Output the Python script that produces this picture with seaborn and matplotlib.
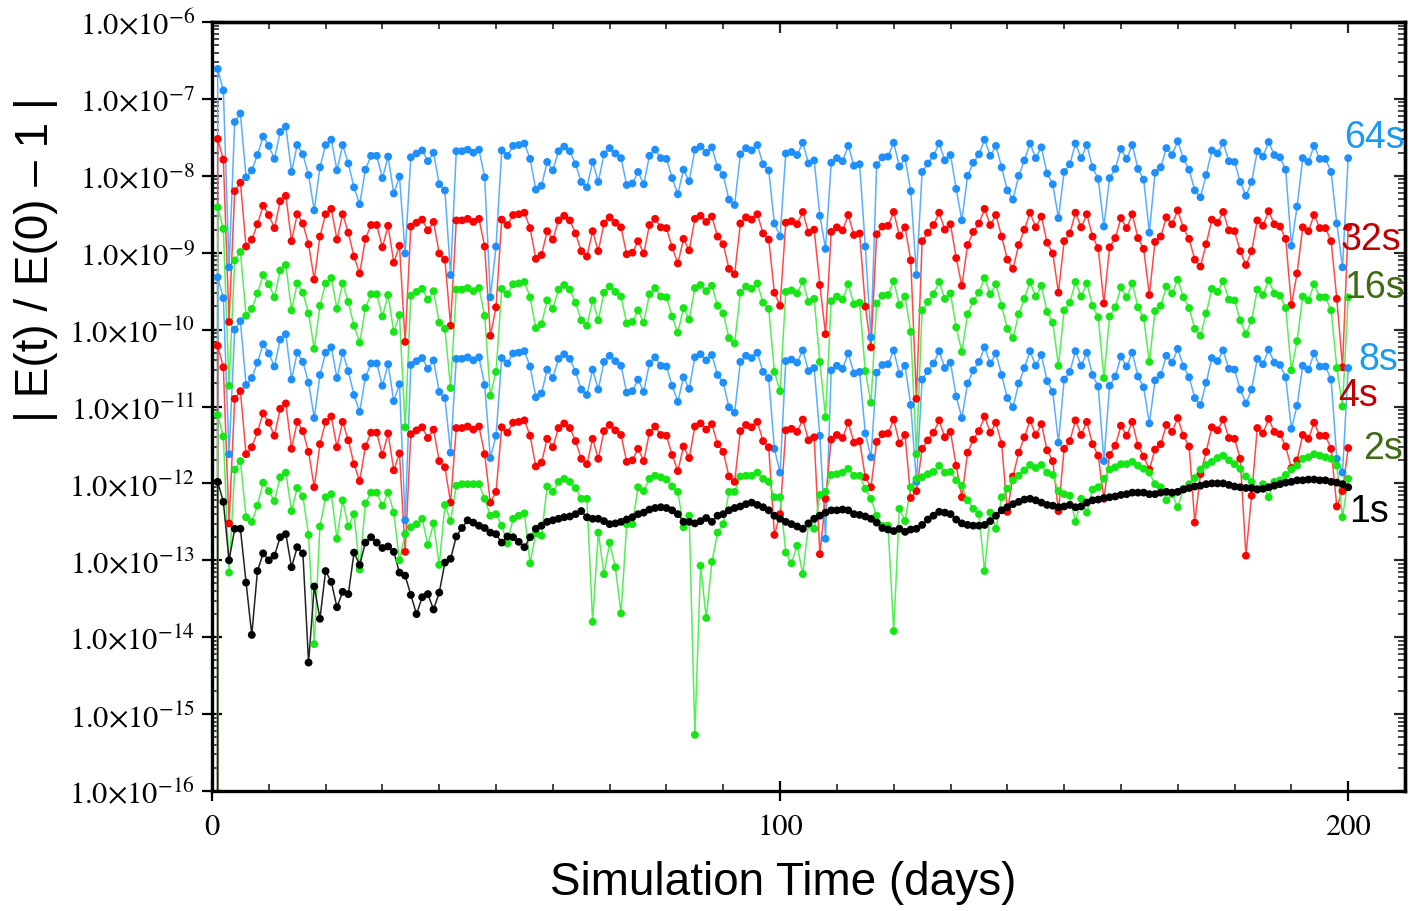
import numpy as np
import pandas as pd
import matplotlib
matplotlib.use("Agg")
import matplotlib.pyplot as plt
from matplotlib.ticker import FixedLocator, FuncFormatter, LogLocator, NullFormatter, MultipleLocator
import seaborn as sns

# log10 of |E(t)/E(0) - 1|, one sample per simulated day (days 1..200)
log_64s = [
    -6.61, -6.89, -9.19, -7.30, -7.19, -8.02, -7.93, -7.73, -7.49, -7.61,
    -7.78, -7.43, -7.36, -7.95, -7.60, -7.72, -7.99, -8.45, -7.89, -7.60,
    -7.53, -7.93, -7.60, -7.84, -8.15, -8.37, -7.92, -7.74, -7.74, -8.03,
    -7.75, -8.23, -8.01, -9.01, -7.76, -7.71, -7.67, -7.81, -7.70, -8.11,
    -8.19, -9.29, -7.68, -7.68, -7.66, -7.70, -7.66, -8.02, -9.58, -8.92,
    -7.67, -7.74, -7.61, -7.60, -7.58, -7.78, -8.18, -8.13, -7.82, -7.93,
    -7.68, -7.62, -7.68, -7.85, -8.08, -8.15, -7.82, -8.08, -7.72, -7.64,
    -7.71, -7.77, -8.12, -8.10, -7.95, -8.11, -7.74, -7.66, -7.77, -7.78,
    -8.03, -8.24, -7.92, -8.07, -7.66, -7.62, -7.70, -7.63, -7.89, -7.99,
    -8.31, -8.38, -7.72, -7.64, -7.67, -7.60, -7.85, -7.93, -8.62, -8.79,
    -7.71, -7.69, -7.73, -7.57, -7.84, -7.80, -8.52, -8.95, -7.83, -7.77,
    -7.81, -7.61, -7.87, -7.85, -8.92, -10.10, -7.86, -7.76, -7.75, -7.57,
    -7.88, -7.77, -8.20, -9.29, -7.95, -7.84, -7.74, -7.58, -7.80, -7.73,
    -8.17, -8.58, -8.00, -7.83, -7.72, -7.53, -7.74, -7.61, -7.89, -8.19,
    -8.31, -8.00, -7.80, -7.58, -7.77, -7.63, -7.97, -8.11, -8.55, -7.95,
    -7.85, -7.58, -7.77, -7.60, -7.89, -8.04, -8.66, -8.03, -7.91, -7.65,
    -7.78, -7.60, -7.91, -8.05, -8.74, -7.96, -7.89, -7.64, -7.73, -7.55,
    -7.78, -7.92, -8.19, -8.28, -7.99, -7.67, -7.71, -7.57, -7.81, -7.82,
    -8.08, -8.26, -8.08, -7.68, -7.75, -7.56, -7.73, -7.76, -7.92, -8.91,
    -8.40, -7.77, -7.82, -7.61, -7.78, -7.78, -7.95, -8.62, -9.19, -7.77,
]

log_32s = [
    -7.52, -7.79, -9.90, -8.20, -8.09, -8.92, -8.83, -8.63, -8.39, -8.51,
    -8.68, -8.33, -8.26, -8.85, -8.50, -8.62, -8.89, -9.35, -8.79, -8.50,
    -8.43, -8.83, -8.50, -8.74, -9.05, -9.27, -8.82, -8.64, -8.64, -8.93,
    -8.65, -9.13, -8.91, -10.16, -8.66, -8.61, -8.57, -8.71, -8.60, -9.01,
    -9.09, -9.95, -8.58, -8.58, -8.56, -8.60, -8.56, -8.92, -10.08, -9.71,
    -8.57, -8.64, -8.51, -8.50, -8.48, -8.68, -9.08, -9.03, -8.72, -8.83,
    -8.58, -8.52, -8.58, -8.75, -8.98, -9.05, -8.72, -8.98, -8.62, -8.54,
    -8.61, -8.67, -9.02, -9.00, -8.85, -9.01, -8.64, -8.56, -8.67, -8.68,
    -8.93, -9.14, -8.82, -8.97, -8.56, -8.52, -8.60, -8.53, -8.79, -8.89,
    -9.21, -9.28, -8.62, -8.54, -8.57, -8.50, -8.75, -8.83, -9.52, -9.69,
    -8.61, -8.59, -8.63, -8.47, -8.74, -8.70, -9.42, -10.06, -8.73, -8.67,
    -8.71, -8.51, -8.77, -8.75, -9.70, -10.23, -8.76, -8.66, -8.65, -8.47,
    -8.78, -8.67, -9.10, -10.90, -8.85, -8.74, -8.64, -8.48, -8.70, -8.63,
    -9.07, -9.43, -8.90, -8.73, -8.62, -8.43, -8.64, -8.51, -8.79, -9.09,
    -9.21, -8.90, -8.70, -8.48, -8.67, -8.53, -8.87, -9.01, -9.52, -8.85,
    -8.75, -8.48, -8.67, -8.50, -8.79, -8.94, -9.66, -8.93, -8.81, -8.55,
    -8.68, -8.50, -8.81, -8.95, -9.55, -8.86, -8.79, -8.54, -8.63, -8.45,
    -8.68, -8.82, -9.09, -9.18, -8.89, -8.57, -8.61, -8.47, -8.71, -8.72,
    -8.98, -9.16, -8.98, -8.58, -8.65, -8.46, -8.63, -8.66, -8.82, -9.68,
    -9.27, -8.67, -8.72, -8.51, -8.68, -8.68, -8.85, -9.60, -10.49, -8.67,
]

log_16s = [
    -8.41, -8.69, -10.73, -9.10, -8.99, -9.82, -9.73, -9.53, -9.29, -9.41,
    -9.58, -9.23, -9.16, -9.75, -9.40, -9.52, -9.79, -10.25, -9.69, -9.40,
    -9.33, -9.73, -9.40, -9.64, -9.95, -10.17, -9.72, -9.54, -9.54, -9.83,
    -9.55, -10.03, -9.81, -11.27, -9.56, -9.51, -9.47, -9.61, -9.50, -9.91,
    -9.99, -10.76, -9.48, -9.48, -9.46, -9.50, -9.46, -9.82, -10.86, -10.55,
    -9.47, -9.54, -9.41, -9.40, -9.38, -9.58, -9.98, -9.93, -9.62, -9.73,
    -9.48, -9.42, -9.48, -9.65, -9.88, -9.95, -9.62, -9.88, -9.52, -9.44,
    -9.51, -9.57, -9.92, -9.90, -9.75, -9.91, -9.54, -9.46, -9.57, -9.58,
    -9.83, -10.04, -9.72, -9.87, -9.46, -9.42, -9.50, -9.43, -9.69, -9.79,
    -10.11, -10.18, -9.52, -9.44, -9.47, -9.40, -9.65, -9.73, -10.55, -10.80,
    -9.51, -9.49, -9.53, -9.37, -9.64, -9.60, -10.42, -11.14, -9.63, -9.57,
    -9.61, -9.41, -9.67, -9.65, -10.54, -10.95, -9.66, -9.56, -9.55, -9.37,
    -9.68, -9.57, -10.03, -11.62, -9.75, -9.64, -9.54, -9.38, -9.60, -9.53,
    -9.97, -10.29, -9.80, -9.63, -9.52, -9.33, -9.54, -9.41, -9.69, -9.99,
    -10.11, -9.80, -9.60, -9.38, -9.57, -9.43, -9.77, -9.91, -10.47, -9.75,
    -9.65, -9.38, -9.57, -9.40, -9.69, -9.84, -10.63, -9.83, -9.71, -9.45,
    -9.58, -9.40, -9.71, -9.85, -10.42, -9.76, -9.69, -9.44, -9.53, -9.35,
    -9.58, -9.72, -9.99, -10.08, -9.79, -9.47, -9.51, -9.37, -9.61, -9.62,
    -9.88, -10.06, -9.88, -9.48, -9.55, -9.36, -9.53, -9.56, -9.72, -10.53,
    -10.15, -9.57, -9.62, -9.41, -9.58, -9.58, -9.75, -10.50, -11.00, -9.58,
]

log_8s = [
    -9.32, -9.59, -11.62, -10.00, -9.89, -10.72, -10.63, -10.43, -10.19, -10.31,
    -10.48, -10.13, -10.06, -10.65, -10.30, -10.42, -10.69, -11.15, -10.59, -10.30,
    -10.23, -10.63, -10.30, -10.54, -10.85, -11.07, -10.62, -10.44, -10.44, -10.73,
    -10.45, -10.93, -10.71, -12.48, -10.46, -10.41, -10.37, -10.51, -10.40, -10.81,
    -10.89, -11.60, -10.38, -10.38, -10.36, -10.40, -10.36, -10.72, -11.67, -11.38,
    -10.37, -10.44, -10.31, -10.30, -10.28, -10.48, -10.88, -10.83, -10.52, -10.63,
    -10.38, -10.32, -10.38, -10.55, -10.78, -10.85, -10.52, -10.78, -10.42, -10.34,
    -10.41, -10.47, -10.82, -10.80, -10.65, -10.81, -10.44, -10.36, -10.47, -10.48,
    -10.73, -10.94, -10.62, -10.77, -10.36, -10.32, -10.40, -10.33, -10.59, -10.69,
    -11.01, -11.08, -10.42, -10.34, -10.37, -10.30, -10.55, -10.63, -11.55, -11.86,
    -10.41, -10.39, -10.43, -10.27, -10.54, -10.50, -11.38, -12.72, -10.53, -10.47,
    -10.51, -10.31, -10.57, -10.55, -11.35, -11.66, -10.56, -10.46, -10.45, -10.27,
    -10.58, -10.47, -10.98, -11.98, -10.65, -10.54, -10.44, -10.28, -10.50, -10.43,
    -10.87, -11.15, -10.70, -10.53, -10.42, -10.23, -10.44, -10.31, -10.59, -10.89,
    -11.01, -10.70, -10.50, -10.28, -10.47, -10.33, -10.67, -10.81, -11.47, -10.65,
    -10.55, -10.28, -10.47, -10.30, -10.59, -10.74, -11.71, -10.73, -10.61, -10.35,
    -10.48, -10.30, -10.61, -10.75, -11.22, -10.66, -10.59, -10.34, -10.43, -10.25,
    -10.48, -10.62, -10.89, -10.98, -10.69, -10.37, -10.41, -10.27, -10.51, -10.52,
    -10.78, -10.96, -10.78, -10.38, -10.45, -10.26, -10.43, -10.46, -10.62, -11.29,
    -10.99, -10.47, -10.52, -10.31, -10.48, -10.48, -10.65, -11.68, -11.86, -10.50,
]

log_4s = [
    -10.21, -10.49, -12.52, -10.90, -10.80, -11.62, -11.53, -11.33, -11.09, -11.21,
    -11.38, -11.03, -10.96, -11.55, -11.20, -11.32, -11.59, -12.05, -11.49, -11.20,
    -11.13, -11.53, -11.20, -11.44, -11.75, -11.97, -11.52, -11.34, -11.34, -11.63,
    -11.35, -11.83, -11.61, -12.89, -11.36, -11.31, -11.27, -11.41, -11.30, -11.71,
    -11.79, -12.25, -11.28, -11.28, -11.26, -11.30, -11.26, -11.62, -12.25, -12.11,
    -11.27, -11.34, -11.21, -11.20, -11.18, -11.38, -11.78, -11.73, -11.42, -11.53,
    -11.28, -11.22, -11.28, -11.45, -11.68, -11.75, -11.42, -11.68, -11.32, -11.24,
    -11.31, -11.37, -11.72, -11.70, -11.55, -11.71, -11.34, -11.26, -11.37, -11.38,
    -11.63, -11.84, -11.52, -11.67, -11.26, -11.22, -11.30, -11.23, -11.49, -11.59,
    -11.91, -11.98, -11.32, -11.24, -11.27, -11.20, -11.45, -11.53, -12.67, -12.40,
    -11.31, -11.29, -11.33, -11.17, -11.44, -11.40, -12.92, -12.20, -11.43, -11.37,
    -11.41, -11.21, -11.47, -11.45, -11.92, -12.05, -11.46, -11.36, -11.35, -11.17,
    -11.48, -11.37, -12.19, -12.10, -11.55, -11.44, -11.34, -11.18, -11.40, -11.33,
    -11.77, -12.18, -11.60, -11.43, -11.32, -11.13, -11.34, -11.21, -11.49, -12.37,
    -11.91, -11.60, -11.40, -11.18, -11.37, -11.23, -11.57, -11.71, -12.36, -11.55,
    -11.45, -11.18, -11.37, -11.20, -11.49, -11.64, -12.20, -11.63, -11.51, -11.25,
    -11.38, -11.20, -11.51, -11.65, -11.82, -11.56, -11.49, -11.24, -11.33, -11.15,
    -11.38, -11.52, -12.51, -11.88, -11.59, -11.27, -11.31, -11.17, -11.41, -11.42,
    -11.68, -12.94, -12.16, -11.28, -11.35, -11.16, -11.33, -11.36, -11.52, -11.80,
    -11.70, -11.37, -11.42, -11.21, -11.38, -11.38, -11.55, -12.30, -12.10, -11.54,
]

log_2s = [
    -11.11, -11.39, -13.16, -11.82, -11.71, -12.44, -12.50, -12.29, -11.99, -12.10,
    -12.23, -11.92, -11.86, -12.36, -12.06, -12.17, -12.67, -14.09, -12.56, -12.18,
    -12.14, -12.72, -12.22, -12.56, -12.40, -13.12, -12.26, -12.12, -12.12, -12.29,
    -12.12, -12.38, -13.00, -12.66, -12.57, -12.53, -12.46, -12.80, -12.52, -13.06,
    -12.28, -12.49, -12.03, -12.01, -12.01, -12.01, -12.01, -12.20, -12.42, -12.40,
    -12.55, -12.78, -12.46, -12.42, -12.39, -13.04, -12.65, -12.68, -12.04, -12.11,
    -11.98, -11.94, -11.98, -12.06, -12.20, -12.20, -13.80, -12.64, -13.18, -12.77,
    -13.09, -13.69, -12.53, -12.53, -12.05, -12.10, -11.94, -11.90, -11.92, -11.95,
    -12.04, -12.11, -12.57, -12.42, -15.27, -13.07, -13.75, -13.02, -12.64, -12.53,
    -12.11, -12.11, -11.91, -11.90, -11.90, -11.86, -11.94, -11.98, -12.18, -12.18,
    -12.90, -13.04, -12.81, -13.18, -12.53, -12.59, -12.15, -12.11, -11.89, -11.88,
    -11.86, -11.81, -11.90, -11.90, -12.07, -12.20, -12.42, -12.55, -12.55, -13.92,
    -12.33, -12.49, -12.05, -11.94, -11.92, -11.88, -11.85, -11.77, -11.86, -11.85,
    -11.96, -12.03, -12.22, -12.33, -12.40, -13.14, -12.38, -12.59, -12.18, -12.07,
    -11.96, -11.90, -11.83, -11.76, -11.80, -11.76, -11.86, -11.89, -12.10, -12.14,
    -12.16, -12.50, -12.20, -12.38, -12.08, -12.05, -11.94, -11.82, -11.79, -11.75,
    -11.75, -11.72, -11.77, -11.81, -11.86, -12.01, -12.05, -12.22, -12.14, -12.31,
    -12.07, -12.01, -11.93, -11.82, -11.76, -11.72, -11.67, -11.64, -11.70, -11.75,
    -11.81, -11.91, -11.98, -12.07, -12.01, -12.18, -11.98, -11.96, -11.89, -11.82,
    -11.77, -11.68, -11.66, -11.62, -11.64, -11.66, -11.68, -11.77, -12.44, -11.94,
]

log_1s = [
    -11.98, -12.24, -13.00, -12.59, -12.59, -13.29, -13.97, -13.14, -12.91, -13.00,
    -12.94, -12.70, -12.66, -13.09, -12.83, -12.91, -14.33, -13.34, -13.76, -13.14,
    -13.28, -13.61, -13.41, -13.44, -12.90, -13.06, -12.77, -12.70, -12.77, -12.84,
    -12.82, -12.89, -13.16, -13.20, -13.45, -13.70, -13.48, -13.44, -13.64, -13.42,
    -13.03, -12.98, -12.69, -12.58, -12.48, -12.51, -12.55, -12.58, -12.64, -12.66,
    -12.77, -12.69, -12.70, -12.76, -12.83, -12.70, -12.59, -12.55, -12.50, -12.48,
    -12.46, -12.44, -12.43, -12.40, -12.36, -12.44, -12.46, -12.46, -12.49, -12.53,
    -12.52, -12.50, -12.47, -12.44, -12.40, -12.38, -12.34, -12.32, -12.31, -12.32,
    -12.35, -12.40, -12.50, -12.50, -12.52, -12.49, -12.45, -12.50, -12.42, -12.40,
    -12.35, -12.32, -12.30, -12.27, -12.25, -12.28, -12.31, -12.35, -12.42, -12.46,
    -12.50, -12.53, -12.56, -12.59, -12.52, -12.46, -12.42, -12.38, -12.35, -12.35,
    -12.34, -12.35, -12.40, -12.41, -12.43, -12.46, -12.51, -12.58, -12.60, -12.62,
    -12.59, -12.63, -12.60, -12.59, -12.54, -12.47, -12.42, -12.37, -12.38, -12.40,
    -12.47, -12.52, -12.54, -12.55, -12.55, -12.54, -12.49, -12.42, -12.35, -12.31,
    -12.27, -12.24, -12.21, -12.20, -12.22, -12.25, -12.28, -12.29, -12.31, -12.30,
    -12.28, -12.31, -12.30, -12.25, -12.22, -12.21, -12.19, -12.18, -12.17, -12.15,
    -12.14, -12.12, -12.12, -12.12, -12.14, -12.14, -12.12, -12.11, -12.12, -12.11,
    -12.08, -12.06, -12.04, -12.03, -12.01, -12.00, -12.00, -12.00, -12.02, -12.04,
    -12.05, -12.06, -12.06, -12.08, -12.07, -12.05, -12.03, -12.01, -11.99, -11.98,
    -11.96, -11.96, -11.95, -11.95, -11.96, -11.96, -11.98, -11.99, -12.01, -12.05,
]

step_names = ["64s", "32s", "16s", "8s", "4s", "2s", "1s"]
step_logs = [log_64s, log_32s, log_16s, log_8s, log_4s, log_2s, log_1s]

# colours: markers, connecting lines, end labels
dot_colors = ["#1E8FFF", "#FF0000", "#16E616", "#1E8FFF", "#FF0000", "#16E616", "#000000"]
line_colors = ["#5AAEFF", "#FF4A4A", "#55EE55", "#5AAEFF", "#FF4A4A", "#55EE55", "#222222"]
label_colors = ["#1A9BEF", "#C00000", "#3F6B12", "#1A9BEF", "#C00000", "#3F6B12", "#000000"]
label_days = [204.6, 204.0, 204.6, 205.3, 201.8, 206.2, 203.6]
label_logs = [-7.50, -8.82, -9.45, -10.38, -10.85, -11.54, -12.36]

frames = []
for name, logs in zip(step_names, step_logs):
    logs = np.asarray(logs)
    # the run starts with zero energy error at t = 0
    err = np.concatenate([[0.0], 10.0 ** logs])
    frames.append(pd.DataFrame({"day": np.arange(len(err)), "err": err, "step": name}))
df = pd.concat(frames, ignore_index=True)

sns.set_theme(style="ticks")
plt.rcParams["mathtext.fontset"] = "stix"
plt.rcParams["font.family"] = ["Liberation Sans", "DejaVu Sans"]

W, H = 1422, 912
fig = plt.figure(figsize=(W / 100, H / 100), dpi=100)
fig.patch.set_facecolor("white")
ax = fig.add_axes([212 / W, 1 - 792 / H, (1405 - 212) / W, (792 - 23) / H])
ax.set_facecolor("white")

sns.lineplot(data=df, x="day", y="err", hue="step", hue_order=step_names,
             palette=dict(zip(step_names, line_colors)), estimator=None,
             sort=False, linewidth=1.1, legend=False, ax=ax)
pos = df[df["err"] > 0]
sns.scatterplot(data=pos, x="day", y="err", hue="step", hue_order=step_names,
                palette=dict(zip(step_names, dot_colors)), s=32, linewidth=0,
                legend=False, ax=ax, zorder=3)

ax.set_yscale("log")
ax.set_ylim(1e-16, 1e-6)
ax.set_xlim(0, 210)

decades = 10.0 ** np.arange(-16, -5)
minor_log = LogLocator(base=10, subs=np.arange(2, 10), numticks=200)

ax.yaxis.set_major_locator(FixedLocator(decades))
ax.yaxis.set_major_formatter(
    FuncFormatter(lambda v, p: r"$1.0{\times}10^{%d}$" % int(round(np.log10(v)))))
ax.yaxis.set_minor_locator(minor_log)
ax.yaxis.set_minor_formatter(NullFormatter())
ax.set_xticks([0, 100, 200])
ax.xaxis.set_minor_locator(MultipleLocator(10))

# left/bottom major ticks cross the frame; minor ones point inward
ax.tick_params(axis="both", which="major", direction="inout", length=14, width=1.6,
               labelsize=22, pad=5, colors="black", top=False, right=False)
ax.tick_params(axis="x", which="major", pad=9)
ax.tick_params(axis="both", which="minor", direction="in", length=5, width=1.2,
               top=False, right=False)
for lab in ax.get_xticklabels() + ax.get_yticklabels():
    lab.set_fontfamily("STIXGeneral")

# mirrored inward ticks on the right and top frame edges
ax_r = ax.secondary_yaxis("right")
ax_r.yaxis.set_major_locator(FixedLocator(decades))
ax_r.yaxis.set_minor_locator(LogLocator(base=10, subs=np.arange(2, 10), numticks=200))
ax_r.yaxis.set_major_formatter(NullFormatter())
ax_r.yaxis.set_minor_formatter(NullFormatter())
ax_r.tick_params(which="major", direction="in", length=8, width=1.6)
ax_r.tick_params(which="minor", direction="in", length=5, width=1.2)

ax_t = ax.secondary_xaxis("top")
ax_t.set_xticks([0, 100, 200])
ax_t.xaxis.set_minor_locator(MultipleLocator(10))
ax_t.xaxis.set_major_formatter(NullFormatter())
ax_t.tick_params(which="major", direction="in", length=8, width=1.6)
ax_t.tick_params(which="minor", direction="in", length=5, width=1.2)

for a in (ax, ax_r, ax_t):
    for sp in a.spines.values():
        sp.set_linewidth(2.4)
        sp.set_color("black")

ax.set_xlabel("Simulation Time (days)", fontsize=33, color="black")
ax.set_ylabel("| E(t) / E(0) \u2013 1 |", fontsize=33, color="black")
ax.xaxis.set_label_coords(0.479, -0.09)
ax.yaxis.set_label_coords(-0.129, 0.692)

for name, col, d, lg in zip(step_names, label_colors, label_days, label_logs):
    ax.text(d, 10.0 ** lg, name, color=col, fontsize=27, ha="center", va="center",
            zorder=5, clip_on=False)

fig.savefig("out.png", dpi=100, facecolor="white")
